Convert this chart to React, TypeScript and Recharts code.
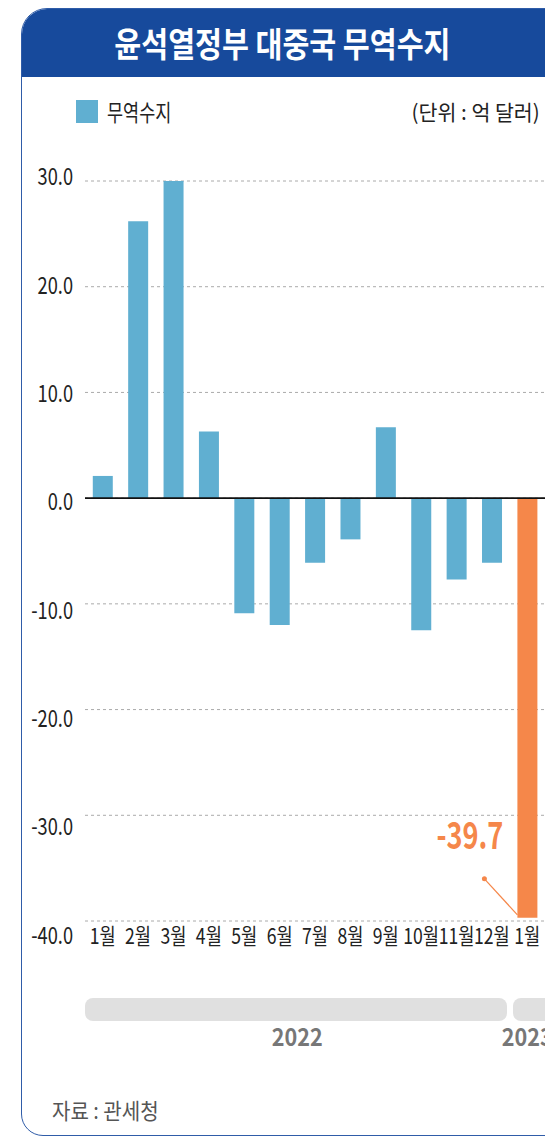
import React from 'react';
import { BarChart, Bar, XAxis, YAxis, CartesianGrid, ReferenceLine, Cell } from 'recharts';

const MONTHS = ['1월', '2월', '3월', '4월', '5월', '6월', '7월', '8월', '9월', '10월', '11월', '12월', '1월'];
const YEARS = ['2022', '2022', '2022', '2022', '2022', '2022', '2022', '2022', '2022', '2022', '2022', '2022', '2023'];
const BALANCE = [2.1, 26.2, 30.0, 6.3, -10.9, -12.0, -6.1, -3.9, 6.7, -12.5, -7.7, -6.1, -39.7];
const Y_TICKS = [-40, -30, -20, -10, 0, 10, 20, 30];

const BLUE = '#60afd1';
const ORANGE = '#f5874a';
const HEADER = '#174a9c';
const FONT = '"Noto Sans CJK KR", "Noto Sans", sans-serif';

const W = 545;
const H = 1139;
const PLOT_LEFT = 85;
const PLOT_RIGHT = 545;
const BAND = (PLOT_RIGHT - PLOT_LEFT) / MONTHS.length;

const data = MONTHS.map((m, i) => ({ key: `${YEARS[i]}-${i}`, month: m, value: BALANCE[i] }));

// consecutive runs of the same year, for the grey bands under the axis
const yearGroups: { year: string; start: number; count: number }[] = [];
YEARS.forEach((y, i) => {
  const last = yearGroups[yearGroups.length - 1];
  if (last && last.year === y) last.count += 1;
  else yearGroups.push({ year: y, start: i, count: 1 });
});

// the source's tick labels drift slightly away from their gridlines
const YTick = (props: any) => {
  const { x, y, payload } = props;
  const v = Number(payload.value);
  return (
    <g transform={`translate(${x},${y + 1.5 - v * 0.26})`}>
      <text x={0} y={0} transform="scale(0.76,1)" textAnchor="end" dominantBaseline="central"
        fontSize={24} fill="#222" fontFamily={FONT}>
        {v.toFixed(1)}
      </text>
    </g>
  );
};

const XTick = (props: any) => {
  const { x, y, index } = props;
  return (
    <g transform={`translate(${x},${y})`}>
      <text x={0} y={0} dy={15} transform="scale(0.8,1)" textAnchor="middle" fontSize={22} fill="#222" fontFamily={FONT}>
        {MONTHS[index]}
      </text>
    </g>
  );
};

const renderLast = (p: any) => {
  if (p.index !== BALANCE.length - 1) return <g />;
  const bottom = Math.max(p.y, p.y + p.height);
  const x = p.x;
  return (
    <g>
      <text x={x - 14} y={bottom - 69} textAnchor="end" fontSize={38} fontWeight={700} fill={ORANGE}
        fontFamily={FONT} textLength={67} lengthAdjust="spacingAndGlyphs">
        {Number(p.value).toFixed(1)}
      </text>
      <line x1={x - 33} y1={bottom - 39} x2={x} y2={bottom - 3} stroke={ORANGE} strokeWidth={1.2} />
      <circle cx={x - 33} cy={bottom - 39} r={2.5} fill={ORANGE} />
    </g>
  );
};

const squeeze = (s: number, origin: string): React.CSSProperties => ({
  display: 'inline-block', transform: `scaleX(${s})`, transformOrigin: origin, whiteSpace: 'nowrap',
});

export default function App() {
  return (
    <div style={{ position: 'absolute', left: 0, top: 0, width: W, height: H, overflow: 'hidden', background: '#fff', fontFamily: FONT }}>
      <div style={{
        position: 'absolute', left: 21, top: 8, width: 600, height: 1128,
        border: '1.5px solid #2f5ca8', borderRadius: '26px 0 0 22px', overflow: 'hidden', boxSizing: 'border-box',
      }}>
        <div style={{ height: 68, background: HEADER }} />
      </div>
      <div style={{
        position: 'absolute', left: 0, top: 8, width: 564, height: 68, display: 'flex',
        alignItems: 'center', justifyContent: 'center', color: '#fff', fontSize: 34, fontWeight: 700,
      }}>
        <span style={squeeze(0.86, 'center')}>윤석열정부 대중국 무역수지</span>
      </div>

      <div style={{ position: 'absolute', left: 76, top: 100, width: 22, height: 23, background: BLUE }} />
      <div style={{ position: 'absolute', left: 107, top: 96, fontSize: 23, lineHeight: '30px', color: '#222' }}>
        <span style={squeeze(0.76, 'left')}>무역수지</span>
      </div>
      <div style={{ position: 'absolute', right: 5, top: 97, fontSize: 21, lineHeight: '28px', color: '#222' }}>
        <span style={squeeze(0.98, 'right')}>(단위 : 억 달러)</span>
      </div>

      <div style={{ position: 'absolute', left: 0, top: 0 }}>
        <BarChart width={W} height={H} data={data} barCategoryGap="22%"
          margin={{ top: 181, right: 0, bottom: 188, left: 25 }}>
          <CartesianGrid vertical={false} stroke="#aaa" strokeDasharray="3 3" />
          <XAxis dataKey="key" axisLine={false} tickLine={false} interval={0} height={30} tickMargin={2} tick={<XTick />} />
          <YAxis domain={[-40, 30]} ticks={Y_TICKS} width={60} axisLine={false} tickLine={false}
            tickMargin={6} tick={<YTick />} />
          <Bar dataKey="value" isAnimationActive={false} label={renderLast}>
            {data.map((d, i) => (
              <Cell key={d.key} fill={i === data.length - 1 ? ORANGE : BLUE} />
            ))}
          </Bar>
          <ReferenceLine y={0} stroke="#111" strokeWidth={1.6} />
        </BarChart>
      </div>

      {yearGroups.map((g, i) => {
        const left = PLOT_LEFT + g.start * BAND + (i === 0 ? 0 : 3);
        const right = PLOT_LEFT + (g.start + g.count) * BAND - 3;
        const center = PLOT_LEFT + (g.start + g.count / 2) * BAND;
        return (
          <React.Fragment key={g.year + i}>
            <div style={{
              position: 'absolute', left, top: 998, width: i === yearGroups.length - 1 ? 80 : right - left,
              height: 23, borderRadius: 8, background: '#e0e0e0',
            }} />
            <div style={{
              position: 'absolute', left: center - 40, width: 80, top: 1021, textAlign: 'center',
              fontSize: 24, fontWeight: 700, color: '#777', lineHeight: '30px',
            }}>
              <span style={squeeze(0.9, 'center')}>{g.year}</span>
            </div>
          </React.Fragment>
        );
      })}

      <div style={{ position: 'absolute', left: 52, top: 1094, fontSize: 22, lineHeight: '30px', color: '#555' }}>
        <span style={squeeze(0.91, 'left')}>자료 : 관세청</span>
      </div>
    </div>
  );
}
